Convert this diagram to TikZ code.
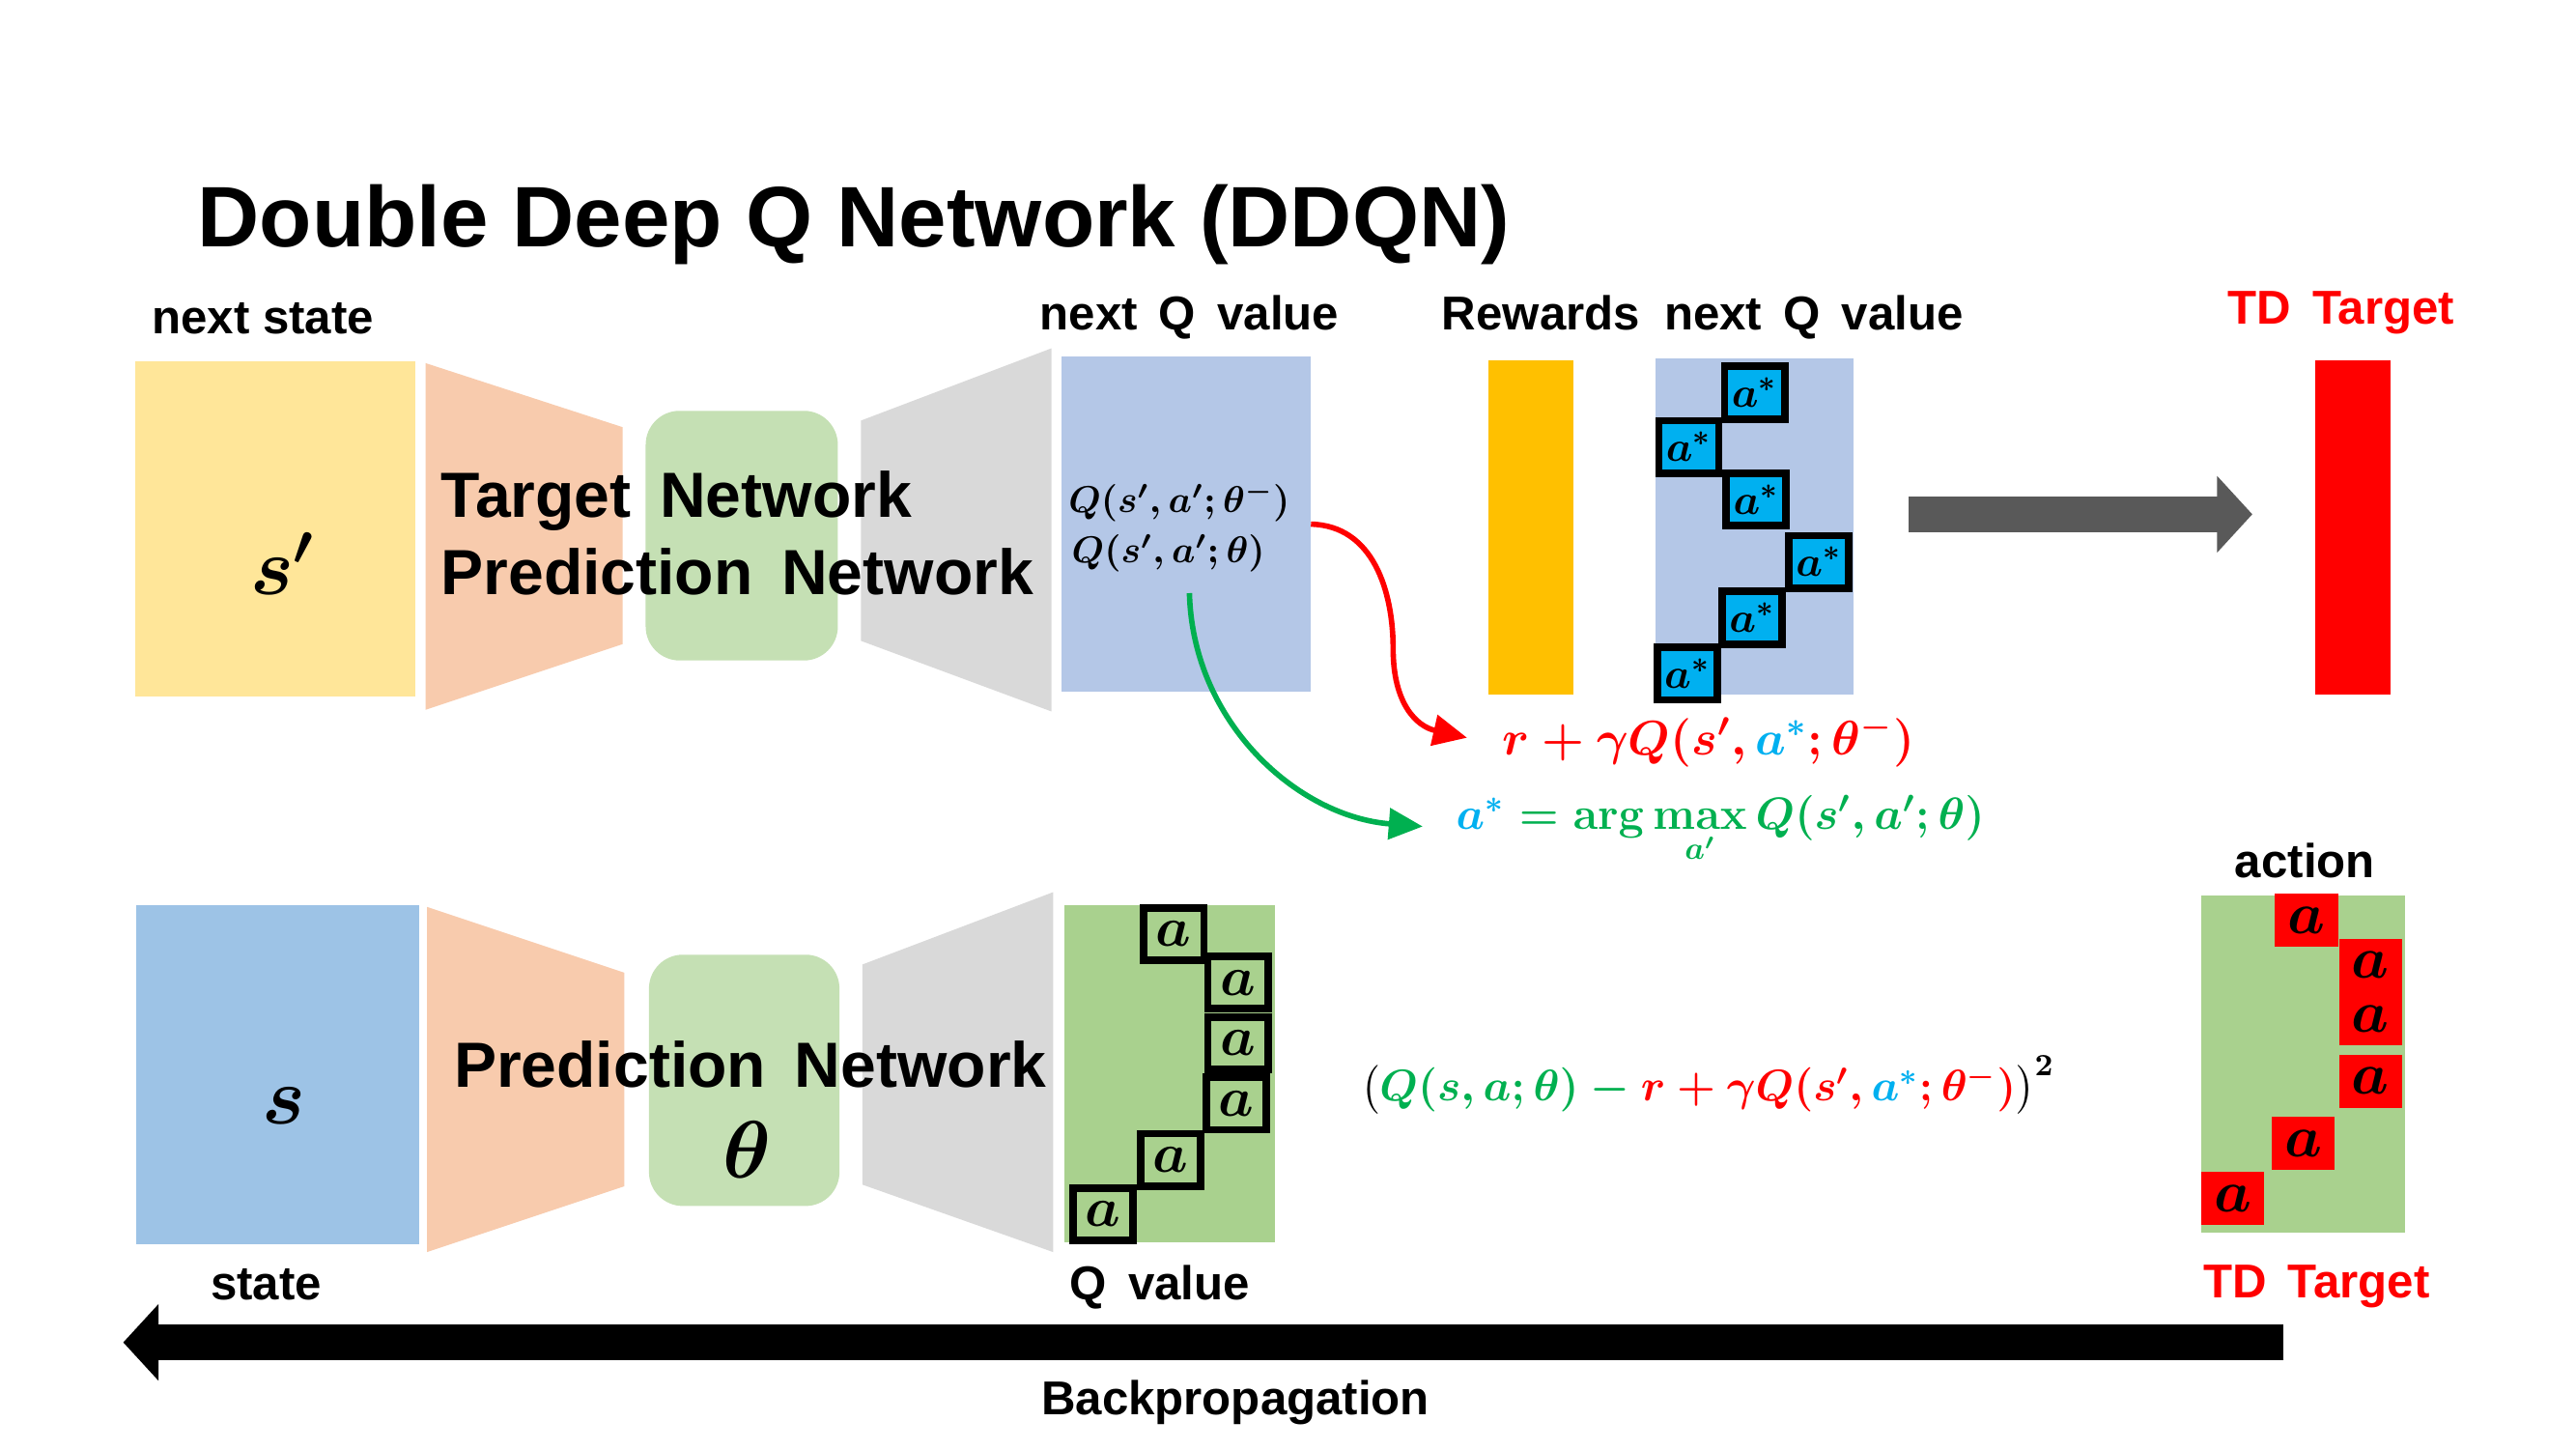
\RequirePackage{fix-cm}
\documentclass[tikz,border=0pt]{standalone}
\usepackage{amsmath}
\usepackage[no-math]{fontspec}
\setmainfont{Liberation Sans}
\usetikzlibrary{arrows.meta}
\definecolor{cYel}{HTML}{FFE699}
\definecolor{cOrg}{HTML}{F8CBAD}
\definecolor{cGrn}{HTML}{C5E0B4}
\definecolor{cGry}{HTML}{D9D9D9}
\definecolor{cBlu}{HTML}{B4C7E7}
\definecolor{cBluS}{HTML}{9DC3E6}
\definecolor{cQg}{HTML}{A9D18E}
\definecolor{cRew}{HTML}{FFC000}
\definecolor{cRed}{HTML}{FF0000}
\definecolor{cCya}{HTML}{00B0F0}
\definecolor{cArr}{HTML}{595959}
\definecolor{cTxG}{HTML}{00B050}
\newcommand\fsz[2]{\fontsize{#1}{#2}\selectfont}
\newcommand\unitpx{0.4839pt}
\newcommand\wsp{\hspace{0.45em}}
\begin{document}
\begin{tikzpicture}[x=0.017009cm,y=-0.017009cm,
  box/.style n args={2}{minimum width=#1*\unitpx, minimum height=#2*\unitpx, inner sep=0, outer sep=0},
  lbl/.style={font=\fsz{14}{17}\bfseries, inner sep=0, anchor=base},
  net/.style={font=\fsz{18.8}{22}\bfseries, inner sep=0, anchor=base west},
  mth/.style={inner sep=0},
  abox/.style={draw=black, line width=2.2pt, minimum width=17.7pt, minimum height=15.5pt, inner sep=0, font=\fsz{12.5}{15}\boldmath},
  rbox/.style={fill=cRed, minimum width=18.6pt, minimum height=15.7pt, inner sep=0, font=\fsz{17.5}{20}\boldmath},
  curvearrow/.style={line width=1.6pt, -{Triangle[length=10pt,width=9pt]}},
  bigarrow/.style={line width=10.6pt, -{Triangle[length=10.4pt,width=22pt]}}
]
\useasboundingbox (0,0) rectangle (1568,882);
\fill[white] (0,0) rectangle (1568,882);

% title
\node[font=\fsz{25.3}{29}\bfseries, inner sep=0, anchor=base west] (title) at (120,150) {Double Deep Q Network (DDQN)};

% ---------- top row ----------
\node[lbl] (lnextstate) at (160,203) {next state};
\node[box={171}{204}, fill=cYel] (sprimebox) at (167.5,322) {};
\node[font=\fsz{24}{26}\boldmath, inner sep=0] (sprime) at (172,343) {$s'$};
\fill[cOrg] (259,221) -- (379,260) -- (379,392) -- (259,432) -- cycle;
\node[box={117}{152}, fill=cGrn, rounded corners=10pt] (tgreen) at (451.5,326) {};
\fill[cGry] (524,256) -- (640,212) -- (640,433) -- (524,390) -- cycle;
\node[net] (tnet1) at (268,315) {Target\wsp Network};
\node[net] (tnet2) at (268,362) {Prediction\wsp Network};

\node[lbl] (lnextq) at (724,201) {next\wsp Q\wsp value};
\node[box={152}{204}, fill=cBlu] (qnext) at (722,319) {};
\node[mth, anchor=west, font=\fsz{11}{13}\boldmath] (qline1) at (650,305) {$Q(s',a';\theta^{-})$};
\node[mth, anchor=west, font=\fsz{11}{13}\boldmath] (qline2) at (652,337) {$Q(s',a';\theta)$};

\node[lbl] (lrew) at (938,201) {Rewards};
\node[box={52}{204}, fill=cRew] (rew) at (932,321) {};

\node[lbl] (lnextq2) at (1104,201) {next\wsp Q\wsp value};
\node[box={121}{205}, fill=cBlu] (qnext2) at (1068,320.5) {};
\node[abox, fill=cCya] (as1) at (1068,239) {$a^{*}$};
\node[abox, fill=cCya] (as2) at (1028,272) {$a^{*}$};
\node[abox, fill=cCya] (as3) at (1069,304) {$a^{*}$};
\node[abox, fill=cCya] (as4) at (1107,342) {$a^{*}$};
\node[abox, fill=cCya] (as5) at (1066.5,376) {$a^{*}$};
\node[abox, fill=cCya] (as6) at (1027,410) {$a^{*}$};

\node[lbl, text=cRed] (ltd1) at (1425,197) {TD\wsp Target};
\node[box={46}{204}, fill=cRed] (td1) at (1432,321) {};

\coordinate (ga1) at (1162,313);
\coordinate (ga2) at (1371,313);
\draw[bigarrow, cArr] (ga1) -- (ga2);

% formulas
\node[mth, anchor=west, font=\fsz{14.3}{17}\boldmath, text=cRed] (rform) at (914,451)
  {$r+\gamma Q(s',{\color{cCya}a^{*}};\theta^{-})$};
\node[mth, anchor=west, font=\fsz{13.3}{16}\boldmath, text=cTxG] (gform) at (886,505)
  {${\color{cCya}a^{*}} = \mathrm{arg}\mathop{\mathrm{max}}\limits_{a'} Q(s',a';\theta)$};

\coordinate (rs) at (qnext.east);
\coordinate (re) at (893,449);
\draw[curvearrow, cRed] (rs) .. controls (836,320) and (848,360) .. (848,395)
  .. controls (848,428) and (862,442) .. (re);
\coordinate (gs) at (724,361);
\coordinate (ge) at (866,503);
\draw[curvearrow, cTxG] (gs) .. controls (726,440) and (790,497) .. (ge);

% ---------- bottom row ----------
\node[box={172}{206}, fill=cBluS] (sbox) at (169,654) {};
\node[font=\fsz{24}{26}\boldmath, inner sep=0] (s) at (173,673) {$s$};
\fill[cOrg] (260,552) -- (380,592) -- (380,722) -- (260,762) -- cycle;
\node[box={116}{153}, fill=cGrn, rounded corners=10pt] (bgreen) at (453,657.5) {};
\fill[cGry] (525,587) -- (641,543) -- (641,762) -- (525,721) -- cycle;
\node[net] (bnet) at (276,662) {Prediction\wsp Network};
\node[font=\fsz{24}{26}\boldmath, inner sep=0] (theta) at (455,700) {$\theta$};

\node[box={128}{205}, fill=cQg] (qbox) at (712,653.5) {};
\node[abox, font=\fsz{16.5}{18}\boldmath] (a1) at (714.5,568.5) {$a$};
\node[abox, font=\fsz{16.5}{18}\boldmath] (a2) at (753.5,598) {$a$};
\node[abox, font=\fsz{16.5}{18}\boldmath] (a3) at (753.5,635) {$a$};
\node[abox, font=\fsz{16.5}{18}\boldmath] (a4) at (752.5,671.5) {$a$};
\node[abox, font=\fsz{16.5}{18}\boldmath] (a5) at (712.5,706) {$a$};
\node[abox, font=\fsz{16.5}{18}\boldmath] (a6) at (671.5,739) {$a$};
\node[lbl] (lqv) at (706,791) {Q\wsp value};
\node[lbl] (lstate) at (162,791) {state};

\node[mth, anchor=west, font=\fsz{13}{16}\boldmath] (loss) at (828,661)
  {$\bigl({\color{cTxG}Q(s,a;\theta)}\mathbin{\color{cTxG}-}{\color{cRed}r}\mathbin{\color{cRed}+}{\color{cRed}\gamma Q(s',{\color{cCya}a^{*}};\theta^{-})}\bigr)^{2}$};

\node[lbl] (laction) at (1403,534) {action};
\node[box={124}{205}, fill=cQg] (actbox) at (1402,647.5) {};
\node[rbox] (r1) at (1404,560) {$a$};
\node[rbox] (r2) at (1443,587.5) {$a$};
\node[rbox] (r3) at (1443,620) {$a$};
\node[rbox] (r4) at (1443,658) {$a$};
\node[rbox] (r5) at (1402,696) {$a$};
\node[rbox] (r6) at (1359,729.5) {$a$};
\node[lbl, text=cRed] (ltd2) at (1410,790) {TD\wsp Target};

\coordinate (bp1) at (1390,817);
\coordinate (bp2) at (75,817);
\draw[bigarrow, black] (bp1) -- (bp2);
\node[lbl] (lbp) at (752,861) {Backpropagation};
\end{tikzpicture}
\end{document}
